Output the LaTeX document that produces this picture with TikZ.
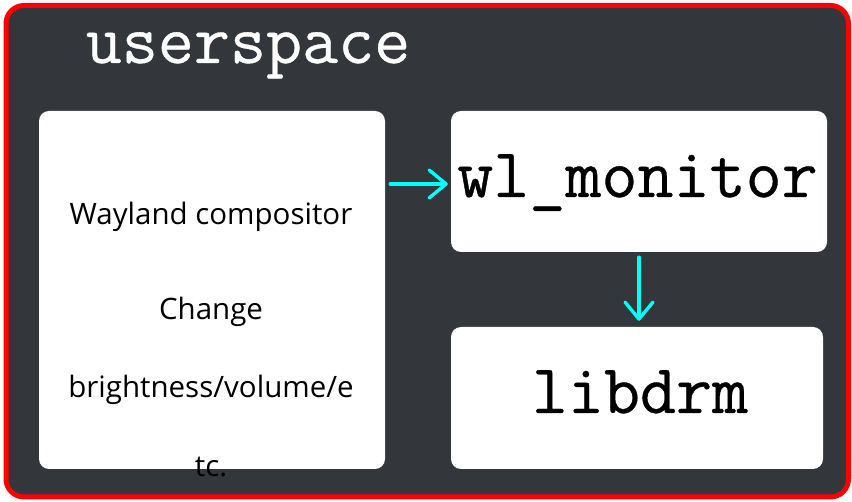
\documentclass[tikz,border=0pt]{standalone}
\usepackage{fontspec}
\setmainfont{Open Sans}
\newfontfamily\codefont{Latin Modern Mono}[FakeBold=0.5]
\usetikzlibrary{arrows.meta}
\definecolor{panel}{HTML}{33363A}
\definecolor{frame}{HTML}{FF0000}
\definecolor{flow}{HTML}{00FFFF}
\tikzset{
  card/.style={fill=white, draw=none, rounded corners=10pt, inner sep=0pt},
  monolabel/.style={font=\codefont\fontsize{70}{70}\selectfont, inner sep=0pt, anchor=base},
  sanslabel/.style={font=\fontsize{29.5}{32}\selectfont, text=black, inner sep=0pt, anchor=base},
  flowarrow/.style={draw=flow, line width=3.4pt, line cap=round, line join=round,
    -{Straight Barb[length=17pt, width=28pt, line cap=round, line join=round]}}
}
\begin{document}
\begin{tikzpicture}[x=1pt, y=-1pt]
  \useasboundingbox (0,0) rectangle (852,502);
  \fill[white] (0,0) rectangle (852,502);
  % outer panel with red frame
  \path[fill=panel, draw=frame, line width=5pt, rounded corners=18pt] (6,5.5) rectangle (848.5,497);
  \node[monolabel, text=white] (title) at (248,63) {userspace};

  % boxes
  \node[card, minimum width=346pt, minimum height=358pt] (comp) at (212,290) {};
  \node[card, minimum width=376pt, minimum height=141pt] (wl) at (639,181.5) {};
  \node[card, minimum width=372pt, minimum height=142pt] (drm) at (637,398) {};

  % box texts
  \node[monolabel] (wltext) at (637.5,197) {wl\_monitor};
  \node[monolabel] (drmtext) at (640,413) {libdrm};
  \node[sanslabel] (c1) at (211,225) {Wayland compositor};
  \node[sanslabel] (c2) at (211,320) {Change};
  \node[sanslabel] (c3) at (211,398) {brightness/volume/e};
  \node[sanslabel] (c4) at (211,477) {tc.};

  % connectors
  \draw[flowarrow] ([xshift=5pt,yshift=-2.5pt]comp.east |- wl.west) -- ([xshift=-3pt,yshift=-2.5pt]wl.west);
  \draw[flowarrow] ([yshift=-5pt]wl.south) -- ([yshift=6pt]wl.south |- drm.north);
\end{tikzpicture}
\end{document}
